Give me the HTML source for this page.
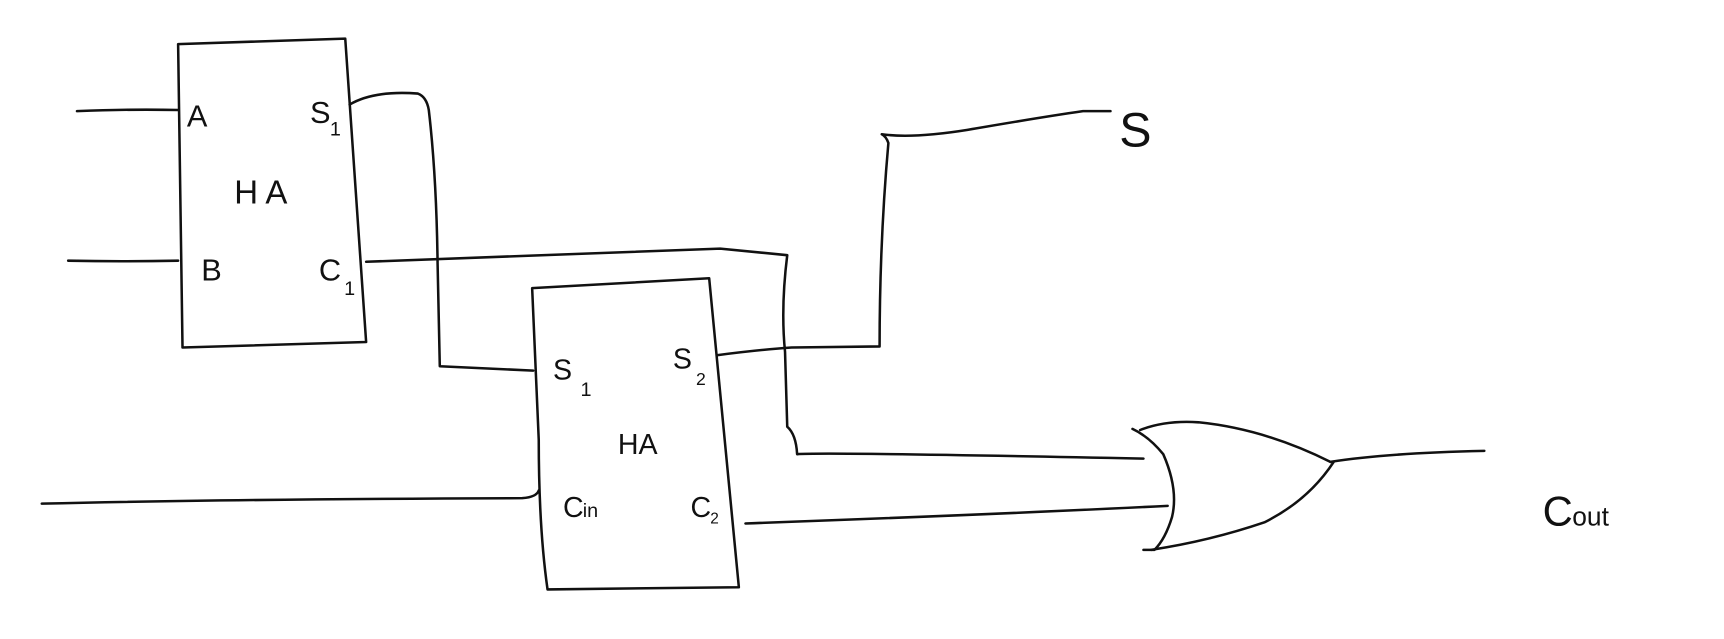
<!DOCTYPE html>
<html><head><meta charset="utf-8"><style>
html,body{margin:0;padding:0;background:#fff;width:1724px;height:639px;overflow:hidden}
svg{display:block}
text{font-family:"Liberation Sans",sans-serif;fill:#111}
</style></head><body>
<svg width="1724" height="639" viewBox="0 0 1568 581" xmlns="http://www.w3.org/2000/svg">
<g fill="none" stroke="#111" stroke-width="2.3" stroke-linecap="round" stroke-linejoin="round">
<path d="M162,40 L314,35 L333,311 L166,316 Z"/>
<path d="M70,101 Q120,99 162,100"/>
<path d="M62,237 Q110,238 162,237"/>
<path d="M318,95 Q340,82 380,85 Q388,88 390,100 Q397,160 398,240 L400,333 L485,337"/>
<path d="M333,238 Q400,235 655,226 L716,232 Q710,280 714,320 L716,388 Q724,395 725,413 Q750,411 1040,417"/>
<path d="M484,262 L645,253 L672,534 L498,536 Q490,480 490,400 Z"/>
<path d="M38,458 Q200,454 475,453 Q488,452 490,446"/>
<path d="M652,323 Q690,318 720,316 L800,315 Q800,220 808,130 Q806,124 802,122 Q830,126 880,118 Q950,106 985,101 L1010,101"/>
<path d="M678,476 Q900,468 1062,460"/>
<path d="M1030,390 Q1045,397 1058,413 Q1072,445 1066,470 Q1060,490 1050,500 L1040,500"/>
<path d="M1037,391 Q1060,382 1090,384 Q1150,390 1210,420"/>
<path d="M1047,500 Q1100,492 1150,475 Q1190,455 1213,420"/>
<path d="M1210,420 Q1260,412 1350,410"/>
</g>
<text x="170" y="115" font-size="28">A</text>
<text x="282" y="112" font-size="28">S</text><text x="300" y="123" font-size="18">1</text>
<text x="213" y="185" font-size="30">H A</text>
<text x="183" y="255" font-size="28">B</text>
<text x="290" y="255" font-size="28">C</text><text x="313" y="268" font-size="18">1</text>
<text x="1018" y="133" font-size="44">S</text>
<text x="503" y="345" font-size="26">S</text><text x="528" y="360" font-size="18">1</text>
<text x="612" y="335" font-size="26">S</text><text x="633" y="350" font-size="16">2</text>
<text x="562" y="413" font-size="26">HA</text>
<text x="512" y="470" font-size="26">C</text><text x="530" y="470" font-size="18">in</text>
<text x="628" y="470" font-size="26">C</text><text x="646" y="476" font-size="14">2</text>
<text x="1403" y="478" font-size="38">C</text><text x="1430" y="478" font-size="24">out</text>
</svg>
</body></html>
